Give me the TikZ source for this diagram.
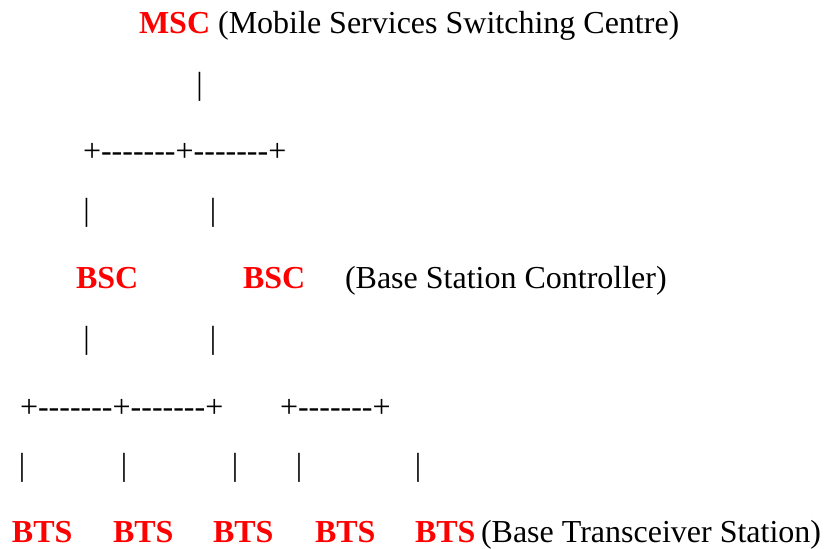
\documentclass[tikz,border=0pt]{standalone}
\usepackage{fontspec}
\setmainfont{Liberation Serif}
\newfontfamily\asciifont{Liberation Serif}[Ligatures=TeXOff]
\begin{document}
\begin{tikzpicture}[x=1pt,y=-1pt,
  every node/.style={inner sep=0pt,outer sep=0pt,font=\fontsize{32}{38}\selectfont},
  lbl/.style={anchor=base west},
  abbr/.style={anchor=base west,text=red,font=\fontsize{32}{38}\selectfont\bfseries},
  bar/.style={anchor=center,font=\fontsize{32}{38}\selectfont\asciifont},
  tee/.style={anchor=west,font=\fontsize{32}{38}\selectfont\asciifont}]
\fill[white] (0,0) rectangle (826,548);
\useasboundingbox (0,0) rectangle (826,548);
% row 1
\node[abbr] (msc) at (139,34) {MSC};
\node[lbl] (msct) at (msc.base east) {\ (Mobile Services Switching Centre)};
\node[bar] (b1) at (199.5,86.5) {|};
\node[tee] (t1) at (83,152) {+-------+-------+};
\node[bar] (b2a) at (86.5,213) {|};
\node[bar] (b2b) at (213,213) {|};
% row BSC
\node[abbr] (bsc1) at (76,288) {BSC};
\node[abbr] (bsc2) at (243,288) {BSC};
\node[lbl] (bsct) at (345,288) {(Base Station Controller)};
\node[bar] (b3a) at (86.5,340.5) {|};
\node[bar] (b3b) at (213,340.5) {|};
\node[tee] (t2) at (20,408) {+-------+-------+};
\node[tee] (t3) at (280,408) {+-------+};
\node[bar] (b4a) at (22,467.5) {|};
\node[bar] (b4b) at (124,467.5) {|};
\node[bar] (b4c) at (235,467.5) {|};
\node[bar] (b4d) at (299,467.5) {|};
\node[bar] (b4e) at (418,467.5) {|};
% row BTS
\node[abbr] (bts1) at (12,542) {BTS};
\node[abbr] (bts2) at (113,542) {BTS};
\node[abbr] (bts3) at (213,542) {BTS};
\node[abbr] (bts4) at (315,542) {BTS};
\node[abbr] (bts5) at (415,542) {BTS};
\node[lbl] (btst) at (481,542) {(Base Transceiver Station)};
\end{tikzpicture}
\end{document}
